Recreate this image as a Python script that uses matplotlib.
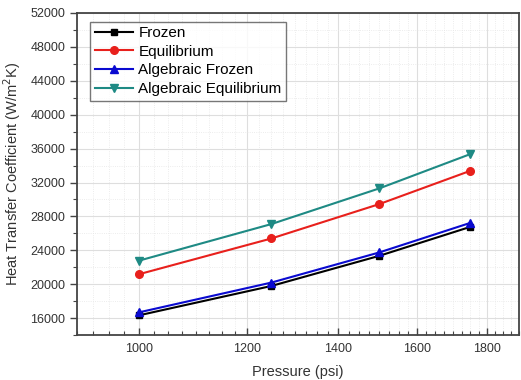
import numpy as np
import matplotlib.pyplot as plt
from matplotlib.ticker import MultipleLocator, FormatStrFormatter, NullFormatter

plt.rcParams['font.family'] = ['Liberation Sans', 'DejaVu Sans']

pressure = [1000, 1250, 1500, 1750]
frozen = [16350, 19800, 23350, 26770]
equilibrium = [21200, 25400, 29450, 33380]
alg_frozen = [16700, 20200, 23750, 27240]
alg_equilibrium = [22800, 27100, 31300, 35350]

fig = plt.figure(figsize=(5.21, 3.80), dpi=100)
ax = fig.add_axes([0.148, 0.118, 0.848, 0.848])

ax.plot(pressure, frozen, color='black', marker='s', markersize=5, lw=1.5, label='Frozen')
ax.plot(pressure, equilibrium, color='#e8201c', marker='o', markersize=5.5, lw=1.5, label='Equilibrium')
ax.plot(pressure, alg_frozen, color='#0a0ad0', marker='^', markersize=6, lw=1.5, label='Algebraic Frozen')
ax.plot(pressure, alg_equilibrium, color='#1e8a84', marker='v', markersize=6, lw=1.5, label='Algebraic Equilibrium')

ax.set_xscale('log')
ax.set_xlim(900, 1900)
ax.set_ylim(14000, 52000)
ax.xaxis.set_major_locator(MultipleLocator(200))
ax.xaxis.set_major_formatter(FormatStrFormatter('%d'))
ax.xaxis.set_minor_locator(MultipleLocator(25))
ax.xaxis.set_minor_formatter(NullFormatter())
ax.yaxis.set_major_locator(MultipleLocator(4000))
ax.yaxis.set_minor_locator(MultipleLocator(2000))

ax.grid(which='major', color='#dedede', lw=0.8)
ax.grid(which='minor', color='#e6e6e6', lw=0.6, linestyle=':')
ax.set_axisbelow(True)

for s in ax.spines.values():
    s.set_color('#444444')
    s.set_linewidth(1.3)

ax.tick_params(axis='x', which='major', direction='in', length=5, width=1, colors='#444444', labelsize=9, labelcolor='#333333', pad=6)
ax.tick_params(axis='x', which='minor', direction='in', length=3, width=0.8, colors='#444444')
ax.tick_params(axis='y', which='major', direction='out', length=5, width=1, colors='#444444', labelsize=9, labelcolor='#333333')
ax.tick_params(axis='y', which='minor', direction='out', length=3, width=0.8, colors='#444444')

ax.set_xlabel('Pressure (psi)', fontsize=10.5, color='#333333', labelpad=7)
ax.set_ylabel('Heat Transfer Coefficient (W/m$^2$K)', fontsize=10.5, color='#333333', labelpad=5)

leg = ax.legend(loc='upper left', bbox_to_anchor=(0.03, 0.973), fontsize=11, frameon=True,
                fancybox=False, edgecolor='#555555', handlelength=2.5, borderpad=0.3,
                labelspacing=0.3, handletextpad=0.35, borderaxespad=0)
leg.get_frame().set_linewidth(1.0)

fig.savefig('out.png', dpi=100)
